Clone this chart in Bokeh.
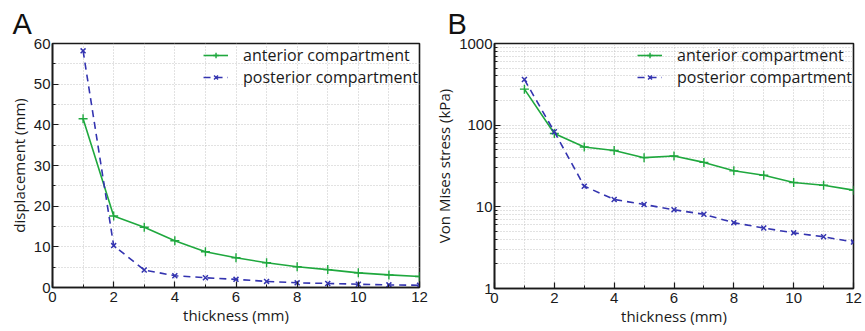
from bokeh.plotting import figure
from bokeh.layouts import row
from bokeh.models import FixedTicker, Legend, LegendItem, Range1d
from bokeh.embed import file_html
from bokeh.resources import INLINE

# ---------------- data ----------------
thickness = [1, 2, 3, 4, 5, 6, 7, 8, 9, 10, 11, 12]
disp_anterior = [41.5, 17.6, 14.8, 11.5, 8.8, 7.3, 6.1, 5.1, 4.4, 3.6, 3.1, 2.7]
disp_posterior = [58.2, 10.3, 4.3, 2.9, 2.4, 2.0, 1.5, 1.15, 1.0, 0.8, 0.65, 0.55]
stress_anterior = [276, 79, 54, 49, 40, 42, 35, 27.6, 24.4, 19.9, 18.4, 16.0]
stress_posterior = [362, 83, 17.9, 12.3, 10.7, 9.2, 8.1, 6.4, 5.5, 4.8, 4.3, 3.7]

x_ticks = [0, 2, 4, 6, 8, 10, 12]
x_minor = [1, 3, 5, 7, 9, 11]
disp_ticks = [0, 10, 20, 30, 40, 50, 60]
disp_minor = [5, 15, 25, 35, 45, 55]
stress_ticks = [1, 10, 100, 1000]
stress_tick_labels = ["1", "10", "100", "1000"]
stress_minor = [m * d for d in (1, 10, 100) for m in range(2, 10)]

series_names = ["anterior compartment", "posterior compartment"]
x_label = "thickness (mm)"
disp_label = "displacement (mm)"
stress_label = "Von Mises stress (kPa)"
panel_letters = ["A", "B"]

GREEN = "#1fa83e"
BLUE = "#3434b0"
GRID = "#c4c4c4"
TICK_FONT = "Liberation Sans"
LABEL_FONT = "Open Sans"


def style_axis(ax):
    ax.axis_line_color = "#1a1a1a"
    ax.axis_line_width = 1.6
    ax.major_tick_line_color = "#1a1a1a"
    ax.minor_tick_line_color = "#1a1a1a"
    ax.major_tick_line_width = 1.2
    ax.minor_tick_line_width = 1.0
    ax.major_tick_in = 6
    ax.major_tick_out = 0
    ax.minor_tick_in = 3
    ax.minor_tick_out = 0
    ax.major_label_text_font = TICK_FONT
    ax.major_label_text_font_size = "15px"
    ax.major_label_text_color = "#1a1a1a"
    ax.axis_label_text_font = LABEL_FONT
    ax.axis_label_text_font_size = "15px"
    ax.axis_label_text_font_style = "normal"
    ax.axis_label_text_color = "#1a1a1a"


def make_panel(letter, frame_w, frame_h, border_left, border_right, y_type,
               y_ticks, y_minor, y_range, ya, yp, ylabel, letter_offset,
               y_overrides=None):
    p = figure(frame_width=frame_w, frame_height=frame_h,
               output_backend="svg", toolbar_location=None,
               y_axis_type=y_type, title=letter,
               x_range=Range1d(0, 12), y_range=Range1d(*y_range),
               min_border_left=border_left, min_border_right=border_right,
               min_border_top=43, min_border_bottom=0)
    p.title.text_font = TICK_FONT
    p.title.text_font_size = "29px"
    p.title.text_font_style = "normal"
    p.title.text_color = "#111111"
    p.title.align = "left"
    p.title.offset = letter_offset
    p.title.standoff = 7

    p.outline_line_color = "#1a1a1a"
    p.outline_line_width = 1.6
    p.background_fill_color = "white"

    xt = FixedTicker(ticks=x_ticks, minor_ticks=x_minor)
    yt = FixedTicker(ticks=y_ticks, minor_ticks=y_minor)
    p.xaxis.ticker = xt
    p.yaxis.ticker = yt
    p.xaxis.axis_label = x_label
    p.yaxis.axis_label = ylabel
    if y_overrides:
        p.yaxis.major_label_overrides = y_overrides
    for ax in p.xaxis + p.yaxis:
        style_axis(ax)
    p.xaxis.major_label_standoff = 4
    p.xaxis.axis_label_standoff = 0
    p.yaxis.major_label_standoff = 2
    p.yaxis.axis_label_standoff = 2

    for g, t in ((p.xgrid, xt), (p.ygrid, yt)):
        g.ticker = t
        g.grid_line_color = GRID
        g.grid_line_dash = "1 2"
        g.grid_line_width = 1
        g.minor_grid_line_color = GRID
        g.minor_grid_line_dash = "1 2"
        g.minor_grid_line_width = 1

    la = p.line(thickness, ya, line_color=GREEN, line_width=1.6)
    ma = p.scatter(thickness, ya, marker="cross", size=9, line_color=GREEN,
                   line_width=1.4)
    lp = p.line(thickness, yp, line_color=BLUE, line_width=1.6,
                line_dash="7 5")
    mp = p.scatter(thickness, yp, marker="x", size=7, line_color=BLUE,
                   line_width=1.5)

    leg = Legend(items=[LegendItem(label=series_names[0], renderers=[la, ma]),
                        LegendItem(label=series_names[1], renderers=[lp, mp])],
                 location="top_right")
    leg.label_text_font = LABEL_FONT
    leg.label_text_font_size = "16px"
    leg.label_text_color = "#1a1a1a"
    leg.label_height = 14
    leg.glyph_height = 14
    leg.glyph_width = 25
    leg.label_standoff = 15
    leg.spacing = -9
    leg.padding = 1
    leg.margin = 1
    leg.border_line_color = None
    leg.background_fill_alpha = 0
    p.add_layout(leg)
    return p


pA = make_panel(panel_letters[0], 367, 244, 52, 11, "linear", disp_ticks,
                disp_minor, (0, 60), disp_anterior, disp_posterior,
                disp_label, -40)
pB = make_panel(panel_letters[1], 359, 245, 64, 12, "log", stress_ticks,
                stress_minor, (1, 1000), stress_anterior, stress_posterior,
                stress_label, -47, dict(zip(stress_ticks, stress_tick_labels)))

layout = row(pA, pB)
open("out.html", "w").write(file_html(layout, INLINE))
